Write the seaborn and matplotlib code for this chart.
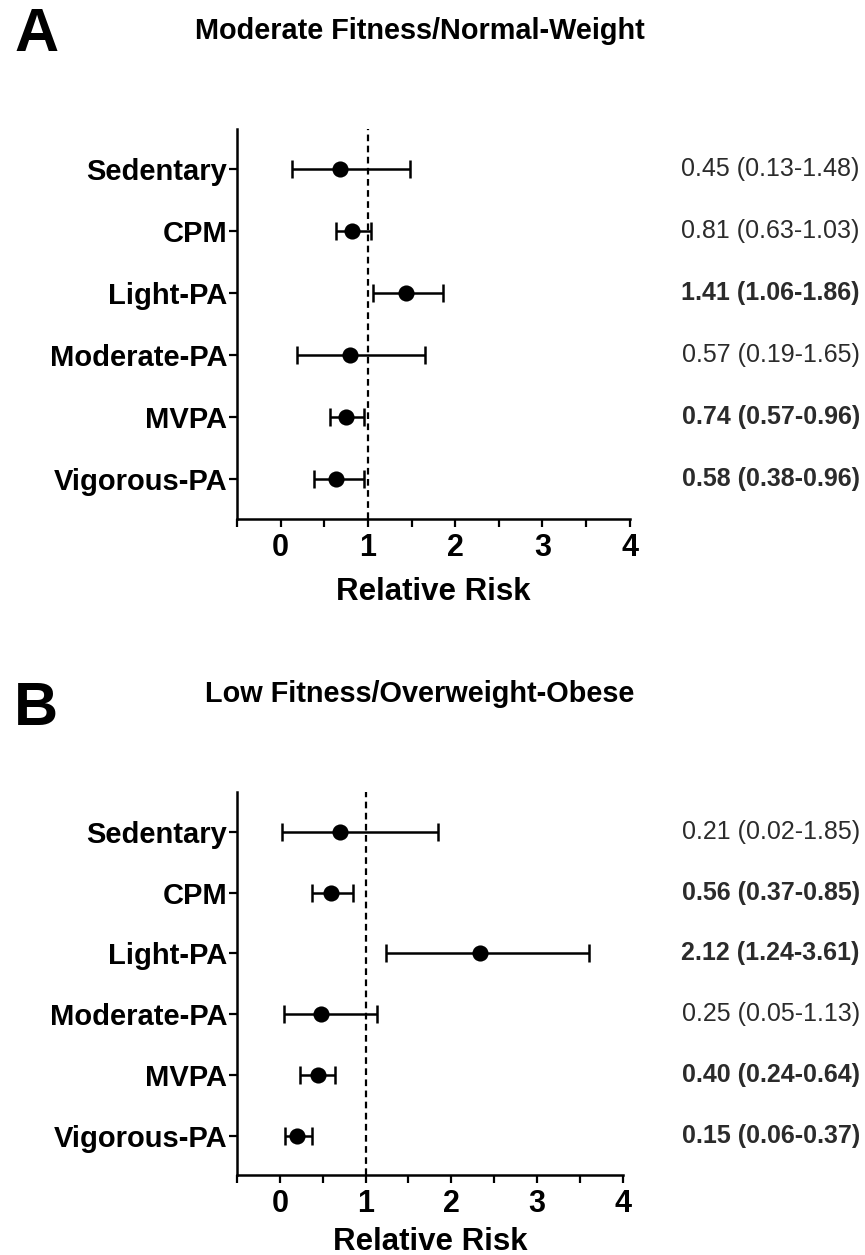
import numpy as np
import pandas as pd
import matplotlib
matplotlib.use("Agg")
import matplotlib.pyplot as plt
import matplotlib.transforms as mtransforms
import seaborn as sns

# Categorias
categorias = ["Sedentary", "CPM", "Light-PA", "Moderate-PA", "MVPA", "Vigorous-PA"]

# Painel A - Moderate Fitness/Normal-Weight
ponto_a = [0.68, 0.82, 1.44, 0.80, 0.75, 0.63]  # posicao dos pontos
rr_a = [0.45, 0.81, 1.41, 0.57, 0.74, 0.58]
inf_a = [0.13, 0.63, 1.06, 0.19, 0.57, 0.38]
sup_a = [1.48, 1.03, 1.86, 1.65, 0.96, 0.96]
negrito_a = [False, False, True, False, True, True]

# Painel B - Low Fitness/Overweight-Obese
ponto_b = [0.70, 0.60, 2.33, 0.48, 0.44, 0.20]
rr_b = [0.21, 0.56, 2.12, 0.25, 0.40, 0.15]
inf_b = [0.02, 0.37, 1.24, 0.05, 0.24, 0.06]
sup_b = [1.85, 0.85, 3.61, 1.13, 0.64, 0.37]
negrito_b = [False, True, True, False, True, True]

xticks = [0, 1, 2, 3, 4]

sns.set_style("ticks")
plt.rcParams["font.family"] = ["Liberation Sans", "DejaVu Sans"]
plt.rcParams["text.color"] = "black"
plt.rcParams["axes.labelcolor"] = "black"
plt.rcParams["xtick.color"] = "black"
plt.rcParams["ytick.color"] = "black"

fig = plt.figure(figsize=(8.65, 12.55), dpi=100)


def painel(ax, ponto, rr, inf, sup, negrito, titulo, letra, y_titulo, y_letra, pad_x):
    df = pd.DataFrame({"cat": categorias, "ponto": ponto, "inf": inf, "sup": sup})
    pos = np.arange(len(categorias))

    # Intervalos de confianca
    ax.errorbar(df["ponto"], pos,
                xerr=[df["ponto"] - df["inf"], df["sup"] - df["ponto"]],
                fmt="none", ecolor="black", elinewidth=1.8, capsize=6.5,
                capthick=1.8, zorder=2)
    # Pontos
    sns.scatterplot(x=df["ponto"], y=pos, ax=ax, color="black", s=135,
                    edgecolor="black", linewidth=0, zorder=3)

    ax.axvline(1, color="black", linestyle=(0, (3, 2)), linewidth=1.6, zorder=1)

    ax.set_xlim(-0.5, 4)
    ax.set_ylim(len(categorias) - 1 + 0.65, -0.65)
    ax.set_xticks(xticks)
    ax.set_xticks(np.arange(-0.5, 4.01, 0.5), minor=True)
    ax.set_xticklabels([str(t) for t in xticks], fontsize=22, fontweight="bold")
    ax.set_yticks(pos)
    ax.set_yticklabels(categorias, fontsize=21, fontweight="bold")
    ax.tick_params(axis="both", which="both", length=6, width=1.6, color="black")
    ax.tick_params(axis="x", pad=4)
    ax.tick_params(axis="y", pad=1)
    ax.set_xlabel("Relative Risk", fontsize=22.5, fontweight="bold", labelpad=pad_x)
    ax.set_ylabel("")
    sns.despine(ax=ax)
    for s in ["left", "bottom"]:
        ax.spines[s].set_linewidth(1.8)
        ax.spines[s].set_color("black")

    # Textos com RR (IC) a direita
    trans = mtransforms.blended_transform_factory(fig.transFigure, ax.transData)
    for i in range(len(categorias)):
        txt = f"{rr[i]:.2f} ({inf[i]:.2f}-{sup[i]:.2f})"
        ax.text(0.994, pos[i], txt, transform=trans, ha="right", va="center",
                fontsize=18, fontweight="bold" if negrito[i] else "normal",
                color="#2b2b2b")

    fig.text(0.4855, y_titulo, titulo, ha="center", va="center",
             fontsize=20.8, fontweight="bold")
    fig.text(0.042, y_letra, letra, ha="center", va="center",
             fontsize=44, fontweight="bold")


ax_a = fig.add_axes([0.274, 0.5865, 0.454, 0.3108])
painel(ax_a, ponto_a, rr_a, inf_a, sup_a, negrito_a,
       "Moderate Fitness/Normal-Weight", "A", 0.9753, 0.9721, 10)

ax_b = fig.add_axes([0.274, 0.0637, 0.446, 0.305])
painel(ax_b, ponto_b, rr_b, inf_b, sup_b, negrito_b,
       "Low Fitness/Overweight-Obese", "B", 0.447, 0.4347, 6)

fig.savefig("out.png", dpi=100)
